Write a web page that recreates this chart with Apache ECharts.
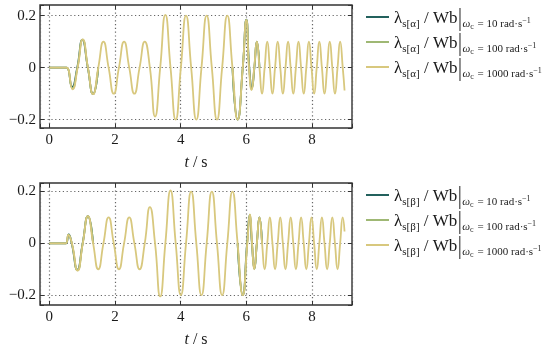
<!DOCTYPE html>
<html><head><meta charset="utf-8">
<script src="https://cdn.jsdelivr.net/npm/echarts@6/dist/echarts.min.js"></script>
<style>html,body{margin:0;padding:0;background:#fff}#c{width:550px;height:350px}</style>
</head><body><div id="c"></div>
<script>
// ---- data (time in s, flux linkage in Wb) ----
const xTickValues = [0, 2, 4, 6, 8];
const yTickValues = [-0.2, 0, 0.2];

const alpha1000 = [[0,0],[0.45,0],[0.53,0],[0.706,-0.083],[0.863,0],[1.02,0.109],[1.177,0],[1.334,-0.102],[1.491,0],[1.649,0.1],[1.806,0],[1.963,-0.1],[2.12,0],[2.277,0.1],[2.434,0],[2.591,-0.1],[2.749,0],[2.906,0.1],[3.063,0],[3.22,-0.188],[3.377,0],[3.534,0.203],[3.691,0],[3.849,-0.2],[4.006,0],[4.163,0.2],[4.32,0],[4.477,-0.2],[4.634,0],[4.792,0.2],[4.949,0],[5.106,-0.2],[5.263,0],[5.42,0.2],[5.577,0],[5.734,-0.2],[5.891,0],[6.0,0.183],[6.08,0],[6.16,-0.086],[6.24,0],[6.32,0.1],[6.399,0],[6.478,-0.1],[6.557,0],[6.637,0.1],[6.716,0],[6.795,-0.1],[6.874,0],[6.954,0.1],[7.033,0],[7.112,-0.1],[7.191,0],[7.271,0.1],[7.35,0],[7.43,-0.1],[7.509,0],[7.588,0.1],[7.667,0],[7.747,-0.1],[7.826,0],[7.905,0.1],[7.984,0],[8.064,-0.1],[8.143,0],[8.222,0.1],[8.301,0],[8.38,-0.1],[8.46,0],[8.539,0.1],[8.618,0],[8.698,-0.1],[8.777,0],[8.856,0.1],[8.935,0],[8.99,-0.088]];
// omega_c = 10 and 100: only where they differ visibly from the 1000 curve
const alpha10 = [[0,0],[0.45,0],[0.53,0],[0.695,-0.074],[0.85,0],[1.008,0.107],[1.172,0],[1.334,-0.102],[1.491,0],'-',[5.577,0],[5.734,-0.2],[5.891,0],[6.0,0.185],[6.09,0],[6.17,-0.076],[6.245,0],[6.32,0.1],[6.399,0]];
const alpha100 = [[0,0],[0.45,0],[0.53,0],[0.702,-0.08],[0.858,0],[1.015,0.108],[1.175,0],[1.334,-0.102],[1.491,0],'-',[5.577,0],[5.734,-0.2],[5.891,0],[6.0,0.184],[6.085,0],[6.165,-0.082],[6.242,0],[6.32,0.1],[6.399,0]];

const beta1000 = [[0,0],[0.45,0],[0.51,0],[0.58,0.033],[0.69,0],[0.863,-0.105],[1.02,0],[1.177,0.105],[1.334,0],[1.491,-0.1],[1.649,0],[1.806,0.1],[1.963,0],[2.12,-0.1],[2.277,0],[2.434,0.1],[2.591,0],[2.749,-0.1],[2.906,0],[3.063,0.14],[3.22,0],[3.377,-0.205],[3.534,0],[3.691,0.204],[3.849,0],[4.006,-0.2],[4.163,0],[4.32,0.2],[4.477,0],[4.634,-0.2],[4.792,0],[4.949,0.2],[5.106,0],[5.263,-0.2],[5.42,0],[5.577,0.2],[5.734,0],[5.891,-0.2],[6.03,0],[6.11,0.112],[6.175,0],[6.24,-0.1],[6.32,0],[6.399,0.1],[6.478,0],[6.557,-0.1],[6.637,0],[6.716,0.1],[6.795,0],[6.874,-0.1],[6.954,0],[7.033,0.1],[7.112,0],[7.191,-0.1],[7.271,0],[7.35,0.1],[7.43,0],[7.509,-0.1],[7.588,0],[7.667,0.1],[7.747,0],[7.826,-0.1],[7.905,0],[7.984,0.1],[8.064,0],[8.143,-0.1],[8.222,0],[8.301,0.1],[8.38,0],[8.46,-0.1],[8.539,0],[8.618,0.1],[8.698,0],[8.777,-0.1],[8.856,0],[8.935,0.1],[8.99,0.046]];
const beta10 = [[0,0],[0.45,0],[0.51,0],[0.59,0.035],[0.682,0],[0.855,-0.102],[1.015,0],[1.177,0.105],[1.334,0],'-',[5.734,0],[5.891,-0.2],[6.022,0],[6.102,0.109],[6.17,0],[6.245,-0.097],[6.32,0],[6.399,0.1],[6.478,0]];
const beta100 = [[0,0],[0.45,0],[0.51,0],[0.585,0.034],[0.686,0],[0.86,-0.104],[1.018,0],[1.177,0.105],[1.334,0],'-',[5.734,0],[5.891,-0.2],[6.026,0],[6.106,0.111],[6.172,0],[6.242,-0.099],[6.32,0],[6.399,0.1],[6.478,0]];

const legendInfo = {a10:['α','10'],a100:['α','100'],a1000:['α','1000'],b10:['β','10'],b100:['β','100'],b1000:['β','1000']};
const colors = {c10:'#23615d', c100:'#9fb874', c1000:'#d8c87e'};

// ---- chart ----
const FF = "'Liberation Serif', 'DejaVu Serif', serif";
const TXT = '#1a1a1a';
const gridBox = [{left:40, top:5, width:312, height:123},{left:40, top:183, width:312, height:122}];
const yRanges = [[-0.232, 0.241],[-0.238, 0.233]];

function toData(arr){ return arr.map(p => p === '-' ? ['-','-'] : p); }
function xFmt(v){ return xTickValues.some(t => Math.abs(t - v) < 1e-6) ? String(Math.round(v)) : ''; }
function yFmt(v){ const t = yTickValues.find(t => Math.abs(t - v) < 1e-6); if (t === undefined) return ''; return t === 0 ? '0' : (t < 0 ? '\u2212' + Math.abs(t).toFixed(1) : t.toFixed(1)); }

const tick = {show:true, inside:true, length:4, lineStyle:{color:'#333', width:1}};
const dotted = {show:true, lineStyle:{color:'#666', width:1.2, type:[1.2, 2.6]}};
const xAxes = [], yAxes = [];
gridBox.forEach((g, i) => {
  xAxes.push({type:'value', gridIndex:i, min:-0.283, max:9.217, minInterval:2, maxInterval:2, position:'bottom',
    axisLine:{show:false, onZero:false}, axisTick:tick,
    axisLabel:{show:true, formatter:xFmt, fontFamily:FF, fontSize:15, color:TXT, margin:5},
    splitLine:dotted,
    name:'{i|t}{n| / s}', nameLocation:'middle', nameGap:27,
    nameTextStyle:{rich:{i:{fontFamily:FF, fontStyle:'italic', fontSize:16, color:TXT}, n:{fontFamily:FF, fontSize:16, color:TXT}}}});
  xAxes.push({type:'value', gridIndex:i, min:-0.283, max:9.217, minInterval:2, maxInterval:2, position:'top',
    axisLine:{show:false, onZero:false}, axisTick:tick, axisLabel:{show:false}, splitLine:{show:false}});
  yAxes.push({type:'value', gridIndex:i, min:yRanges[i][0], max:yRanges[i][1], minInterval:0.2, maxInterval:0.2, position:'left',
    axisLine:{show:false, onZero:false}, axisTick:tick,
    axisLabel:{show:true, formatter:yFmt, fontFamily:FF, fontSize:15, color:TXT, margin:4},
    splitLine:dotted});
  yAxes.push({type:'value', gridIndex:i, min:yRanges[i][0], max:yRanges[i][1], minInterval:0.2, maxInterval:0.2, position:'right',
    axisLine:{show:false, onZero:false}, axisTick:tick, axisLabel:{show:false}, splitLine:{show:false}});
});

function mkSeries(name, data, color, gi){
  return {name, type:'line', data:toData(data), xAxisIndex:gi*2, yAxisIndex:gi*2, showSymbol:false, symbol:'none',
    smooth:0.55, connectNulls:false, lineStyle:{color, width:1.8}, itemStyle:{color}, emphasis:{disabled:true}, animation:false};
}

const rich = {
  st:{width:0.1, height:28, lineHeight:28, verticalAlign:'bottom'},
  m:{fontFamily:FF, fontSize:17, color:TXT, lineHeight:15, verticalAlign:'bottom', padding:[0,0,4,0]},
  s:{fontFamily:FF, fontSize:11, color:TXT, lineHeight:11, verticalAlign:'bottom', padding:[0,0,1,0]},
  w:{fontFamily:FF, fontSize:11, fontStyle:'italic', color:TXT, lineHeight:11, verticalAlign:'bottom', padding:[0,0,1,0]},
  c:{fontFamily:FF, fontSize:8, color:TXT, lineHeight:8, verticalAlign:'bottom', padding:[0,1,0,0]},
  p:{fontFamily:FF, fontSize:8, color:TXT, lineHeight:8, verticalAlign:'bottom', padding:[0,0,6,0]},
  bar:{width:1, height:23, lineHeight:23, backgroundColor:'#222', verticalAlign:'bottom'},
  sp:{width:2, height:1}
};
function legendFmt(name){
  const [g, w] = legendInfo[name];
  return '{st| }{m|λ}{s|s[' + g + ']}{m| / Wb}{sp| }{bar| }{sp| }{w|ω}{c|c}{s| = ' + w + ' rad·s}{p|\u22121}';
}
function mkLegend(names, top){
  return {data:names, orient:'vertical', left:361, top, icon:'rect', itemWidth:23, itemHeight:2, itemGap:-3,
    selectedMode:false, formatter:legendFmt, textStyle:{rich}};
}

const option = {
  animation:false,
  grid: gridBox.map(g => Object.assign({show:true, borderColor:'#333', borderWidth:1.4, backgroundColor:'transparent'}, g)),
  xAxis: xAxes, yAxis: yAxes,
  legend: [mkLegend(['a10','a100','a1000'], -2), mkLegend(['b10','b100','b1000'], 176)],
  series: [
    mkSeries('a10', alpha10, colors.c10, 0), mkSeries('a100', alpha100, colors.c100, 0), mkSeries('a1000', alpha1000, colors.c1000, 0),
    mkSeries('b10', beta10, colors.c10, 1), mkSeries('b100', beta100, colors.c100, 1), mkSeries('b1000', beta1000, colors.c1000, 1)
  ]
};
const chart = echarts.init(document.getElementById('c'), null, {renderer:'canvas'});
chart.setOption(option);
</script></body></html>
